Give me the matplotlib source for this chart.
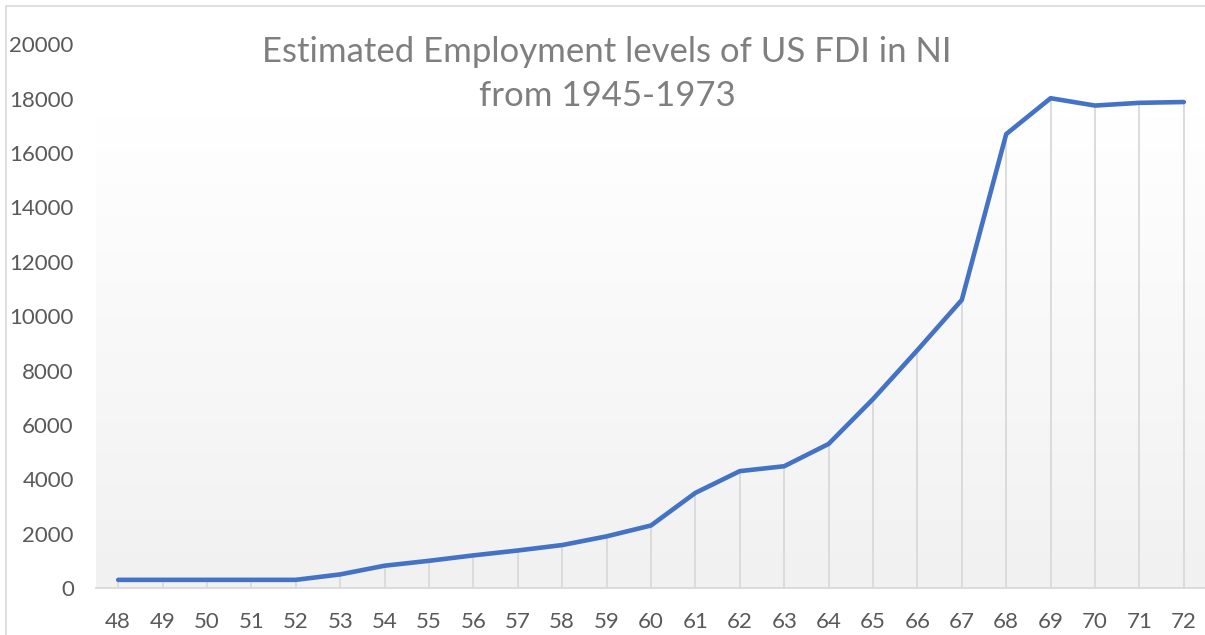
import numpy as np
import matplotlib.pyplot as plt
from matplotlib.patches import Rectangle

plt.rcParams['font.family'] = ['Lato', 'DejaVu Sans']

## Data
years = ['48', '49', '50', '51', '52', '53', '54', '55', '56', '57', '58', '59', '60',
         '61', '62', '63', '64', '65', '66', '67', '68', '69', '70', '71', '72']
employment = [300, 300, 300, 300, 300, 500, 820, 1000, 1200, 1380, 1580, 1900, 2300,
              3500, 4300, 4480, 5300, 6950, 8750, 10600, 16700, 18020, 17750, 17850, 17880]
yticks = [0, 2000, 4000, 6000, 8000, 10000, 12000, 14000, 16000, 18000, 20000]
title = 'Estimated Employment levels of US FDI in NI\nfrom 1945-1973'

W, H = 1205, 635
fig = plt.figure(figsize=(W / 100, H / 100), dpi=100)
fig.patch.set_facecolor('white')

# outer chart border
fig.add_artist(Rectangle((6 / W, -0.05), 1.2, (H - 6) / H + 0.05, transform=fig.transFigure,
                         fill=False, edgecolor='#d9d9d9', linewidth=1.2))

ax = fig.add_axes([96 / W, (H - 588) / H, 1110 / W, 543.6 / H])
ax.set_facecolor('none')

x = np.arange(len(years))
ax.set_xlim(-0.5, len(years) - 0.5)
ax.set_ylim(0, 20000)

# plot area gradient (white at top to light grey at bottom)
top_val = 20000 * (588 - 115) / 543.6
grad = np.linspace(1.0, 0.0, 256).reshape(-1, 1)
c_top = np.array([1.0, 1.0, 1.0])
c_bot = np.array([0xf1, 0xf1, 0xf1]) / 255
img = c_bot + grad[..., None] * (c_top - c_bot)
ax.imshow(img, extent=(-0.5, len(years) - 0.5, 0, top_val), aspect='auto', zorder=0)

# drop lines
ax.vlines(x, 0, employment, colors='#d9d9d9', linewidth=1.3, zorder=1)

ax.plot(x, employment, color='#4472c4', linewidth=3.3, solid_joinstyle='round',
        solid_capstyle='round', zorder=3)

ax.set_xticks(x)
ax.set_xticklabels(years)
ax.set_yticks(yticks)
ax.set_yticklabels([str(v) for v in yticks])
ax.tick_params(axis='x', length=0, pad=17, labelsize=16, labelcolor='#595959')
ax.tick_params(axis='y', length=0, pad=16, labelsize=16, labelcolor='#595959')

for s in ['top', 'right', 'left']:
    ax.spines[s].set_visible(False)
ax.spines['bottom'].set_color('#d9d9d9')
ax.spines['bottom'].set_linewidth(1.3)
ax.spines['bottom'].set_zorder(2)

fig.text(607 / W, 1 - 74 / H, title, ha='center', va='center', fontsize=25,
         color='#7f7f7f', linespacing=1.5)

fig.savefig('out.png', dpi=100)
